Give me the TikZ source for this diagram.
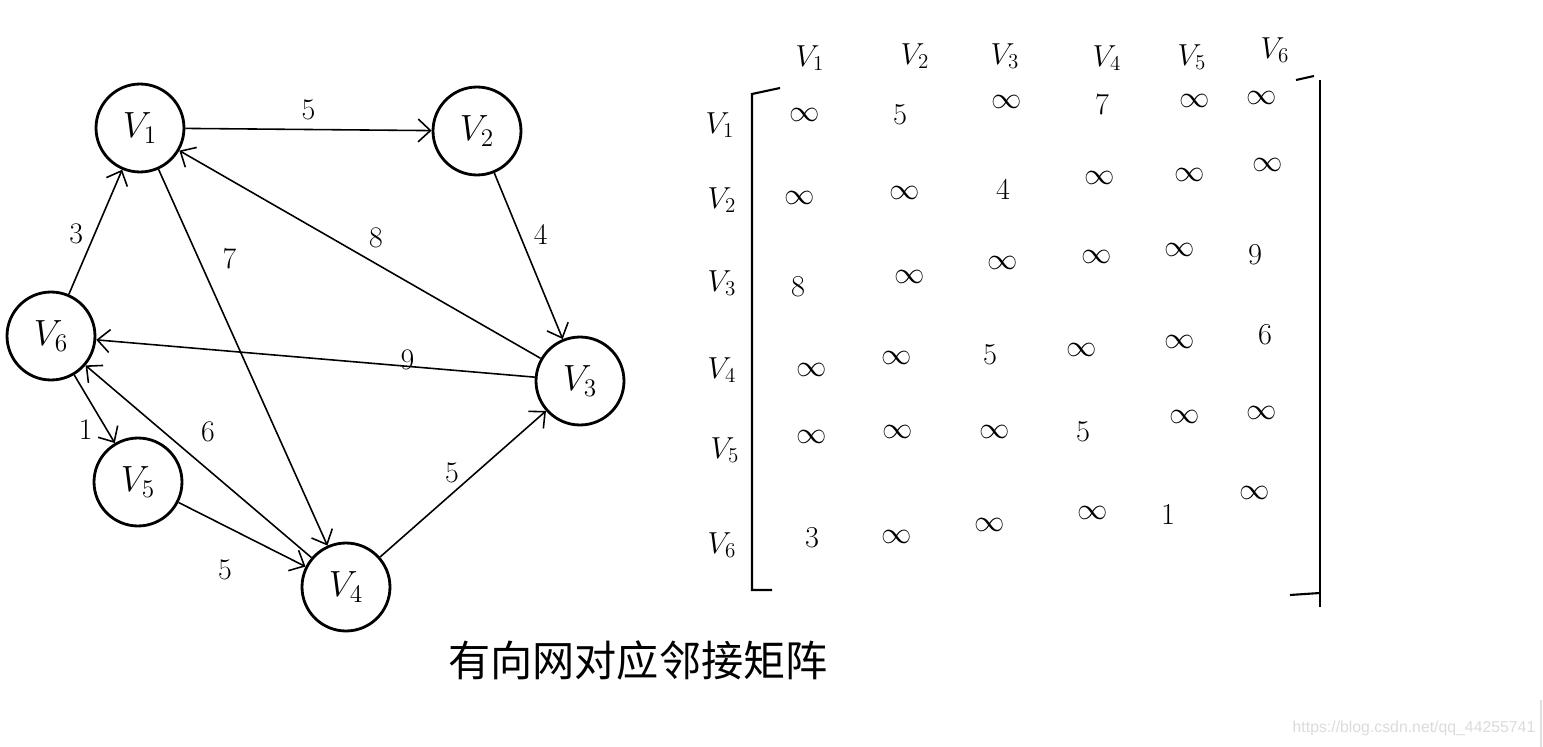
\documentclass[tikz,border=0pt]{standalone}
\usepackage{fontspec}
\newfontfamily\cjk{Noto Sans CJK SC}
\newfontfamily\wmfont{Liberation Sans}
\usetikzlibrary{arrows.meta}
\begin{document}
\begin{tikzpicture}[x=0.02cm,y=-0.02cm,
  vert/.style={circle,draw,line width=1.6pt,minimum size=1.76cm,inner sep=0pt,font=\fontsize{21}{23}\selectfont},
  edge/.style={line width=0.9pt,-{Straight Barb[length=7pt,width=13pt,line width=0.9pt]}},
  wt/.style={font=\fontsize{17}{19}\selectfont,inner sep=0pt},
  lab/.style={font=\fontsize{18}{20}\selectfont,inner sep=0pt},
  ent/.style={font=\fontsize{18}{20}\selectfont,inner sep=0pt},
  brk/.style={line width=1.2pt}]
\useasboundingbox (0,0) rectangle (1543,747);
% vertices
\node[vert] (v1) at (140,128) {$V_1$};
\node[vert] (v2) at (477,131) {$V_2$};
\node[vert] (v3) at (580,381) {$V_3$};
\node[vert] (v6) at (51,336) {$V_6$};
\node[vert] (v5) at (138,482) {$V_5$};
\node[vert] (v4) at (346,587) {$V_4$};
% edges
\draw[edge] (v1) -- node[wt,pos=0.5,yshift=11pt] (w12) {5} (v2);
\draw[edge] (v2) -- node[wt,pos=0.37,xshift=12pt] (w23) {4} (v3);
\draw[edge] (v3) -- node[wt,pos=0.456,yshift=14.6pt] (w31) {8} (v1);
\draw[edge] (v1) -- node[wt,pos=0.237,xshift=17.6pt] (w14) {7} (v4);
\draw[edge] (v3) -- node[wt,pos=0.29,yshift=3.6pt] (w36) {9} (v6);
\draw[edge] (v6) -- node[wt,pos=0.489,xshift=-10.7pt] (w61) {3} (v1);
\draw[edge] (v6) -- node[wt,pos=0.75,xshift=-10.8pt,yshift=-1.9pt] (w65) {1} (v5);
\draw[edge] (v4) -- node[wt,pos=0.54,xshift=10.5pt,yshift=12.4pt] (w46) {6} (v6);
\draw[edge] (v5) -- node[wt,pos=0.506,xshift=-10.1pt,yshift=-20pt] (w54) {5} (v4);
\draw[edge] (v4) -- node[wt,pos=0.495,xshift=-5.8pt,yshift=6.6pt] (w43) {5} (v3);
% column headers
\node[lab] (c1) at (810,58) {$V_1$};
\node[lab] (c2) at (915,56) {$V_2$};
\node[lab] (c3) at (1005,56) {$V_3$};
\node[lab] (c4) at (1107,58) {$V_4$};
\node[lab] (c5) at (1192,57) {$V_5$};
\node[lab] (c6) at (1275,50) {$V_6$};
% row headers
\node[lab] (r1) at (720,125) {$V_1$};
\node[lab] (r2) at (722,200) {$V_2$};
\node[lab] (r3) at (722,283) {$V_3$};
\node[lab] (r4) at (722,370) {$V_4$};
\node[lab] (r5) at (725,450) {$V_5$};
\node[lab] (r6) at (722,545) {$V_6$};
% brackets
\draw[brk] (780,88) -- (752,94) -- (752,590) -- (772,590);
\draw[brk] (1296,80) -- (1314,76);
\draw[brk] (1320,80) -- (1320,607);
\draw[brk] (1290,595) -- (1320,593);
% entries row 1
\node[ent] (a11) at (805,115) {$\infty$};
\node[ent] (a12) at (900,115) {$5$};
\node[ent] (a13) at (1007,102) {$\infty$};
\node[ent] (a14) at (1102,105) {$7$};
\node[ent] (a15) at (1195,101) {$\infty$};
\node[ent] (a16) at (1262,98) {$\infty$};
% row 2
\node[ent] (a21) at (800,198) {$\infty$};
\node[ent] (a22) at (905,193) {$\infty$};
\node[ent] (a23) at (1003,190) {$4$};
\node[ent] (a24) at (1100,178) {$\infty$};
\node[ent] (a25) at (1190,175) {$\infty$};
\node[ent] (a26) at (1268,165) {$\infty$};
% row 3
\node[ent] (a31) at (798,287) {$8$};
\node[ent] (a32) at (910,277) {$\infty$};
\node[ent] (a33) at (1003,263) {$\infty$};
\node[ent] (a34) at (1097,257) {$\infty$};
\node[ent] (a35) at (1180,250) {$\infty$};
\node[ent] (a36) at (1255,255) {$9$};
% row 4
\node[ent] (a41) at (812,370) {$\infty$};
\node[ent] (a42) at (897,358) {$\infty$};
\node[ent] (a43) at (990,355) {$5$};
\node[ent] (a44) at (1082,350) {$\infty$};
\node[ent] (a45) at (1180,342) {$\infty$};
\node[ent] (a46) at (1265,335) {$6$};
% row 5
\node[ent] (a51) at (812,437) {$\infty$};
\node[ent] (a52) at (898,432) {$\infty$};
\node[ent] (a53) at (995,432) {$\infty$};
\node[ent] (a54) at (1083,432) {$5$};
\node[ent] (a55) at (1185,417) {$\infty$};
\node[ent] (a56) at (1262,413) {$\infty$};
% row 6
\node[ent] (a61) at (812,538) {$3$};
\node[ent] (a62) at (897,537) {$\infty$};
\node[ent] (a63) at (990,525) {$\infty$};
\node[ent] (a64) at (1093,513) {$\infty$};
\node[ent] (a65) at (1168,515) {$1$};
\node[ent] (a66) at (1255,493) {$\infty$};
% caption
\node[font=\cjk\fontsize{24}{26}\selectfont,inner sep=0pt] (cap) at (638,660) {有向网对应邻接矩阵};
% watermark
\node[font=\wmfont\fontsize{9}{10}\selectfont,text=black!14,inner sep=0pt] (wm) at (1414,728) {https://blog.csdn.net/qq\_44255741};
\draw[black!12,line width=0.6pt] (1541,700) -- (1541,747);
\end{tikzpicture}
\end{document}
